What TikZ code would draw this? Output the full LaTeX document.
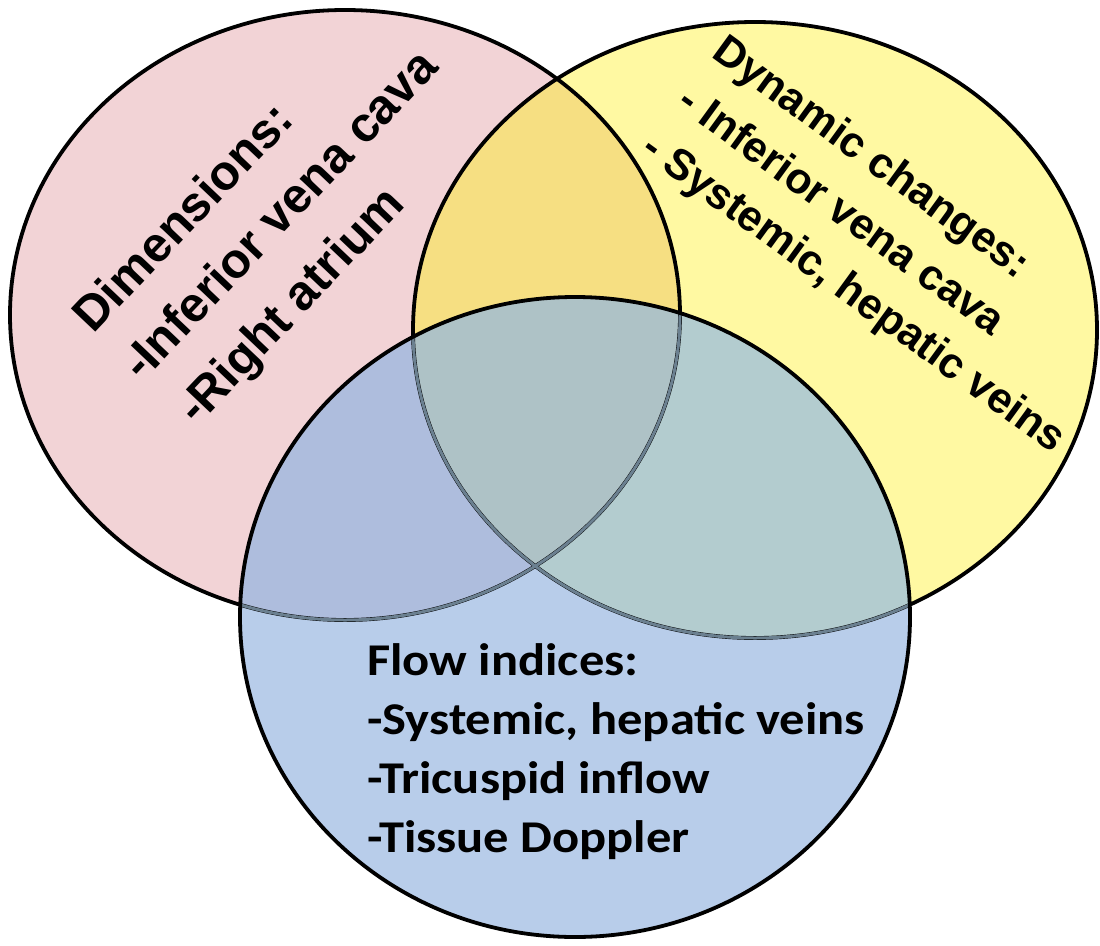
\documentclass[tikz,border=0pt]{standalone}
\usepackage{fontspec}
\setmainfont{Liberation Sans}
\newfontfamily\calfont{Carlito}
\definecolor{pinkfill}{HTML}{F2D3D6}
\definecolor{yellowfill}{HTML}{FFF9A2}
\definecolor{goldfill}{HTML}{F6DF82}
\definecolor{bluefill}{HTML}{B8CDEA}
\definecolor{bluepink}{HTML}{AEBDDD}
\definecolor{blueyellow}{HTML}{B3CCCF}
\definecolor{triplefill}{HTML}{AEC2C6}
\definecolor{innerline}{HTML}{6B8090}
\begin{document}
\begin{tikzpicture}[x=1pt,y=-1pt,
  outline/.style={line width=3.8pt, black},
  innerborder/.style={line width=3pt, innerline},
  dimtext/.style={font=\bfseries\fontsize{49}{49}\selectfont, inner sep=0pt, anchor=base west, rotate=46.5},
  dyntext/.style={font=\bfseries\fontsize{43}{43}\selectfont, inner sep=0pt, anchor=base west, rotate=-36},
  flowtext/.style={font=\calfont\bfseries\fontsize{50.5}{50.5}\selectfont, inner sep=0pt, anchor=base west, yscale=0.9}]
\useasboundingbox (0,0) rectangle (1100,945);
\fill[white] (0,0) rectangle (1100,945);
\def\pinkE{(345,315) ellipse [x radius=335pt, y radius=305pt]}
\def\yellowE{(755,330) ellipse [x radius=342pt, y radius=308pt]}
\def\blueE{(575,617) ellipse [x radius=335pt, y radius=320pt]}
% fills
\fill[pinkfill] \pinkE;
\fill[yellowfill] \yellowE;
\begin{scope}
  \clip \pinkE;
  \fill[goldfill] \yellowE;
\end{scope}
\fill[bluefill] \blueE;
\begin{scope}
  \clip \blueE;
  \fill[bluepink] \pinkE;
  \fill[blueyellow] \yellowE;
  \clip \pinkE;
  \fill[triplefill] \yellowE;
\end{scope}
% borders
\draw[outline] \pinkE;
\draw[outline] \yellowE;
\begin{scope}
  \clip \blueE;
  \draw[innerborder] \pinkE;
  \draw[innerborder] \yellowE;
\end{scope}
\draw[outline] \blueE;
% texts
\node[dimtext] (d1) at (93.5,335) {Dimensions:};
\node[dimtext] (d2) at (142,383) {-Inferior vena cava};
\node[dimtext] (d3) at (197,427) {-Right atrium};
\node[dyntext] (y1) at (710,56) {Dynamic changes:};
\node[dyntext] (y2) at (675,106) {- Inferior vena cava};
\node[dyntext] (y3) at (639,153) {- Systemic, hepatic veins};
\node[flowtext] (f1) at (367,675) {Flow indices:};
\node[flowtext] (f2) at (367,734) {-Systemic, hepatic veins};
\node[flowtext] (f3) at (367,793) {-Tricuspid inflow};
\node[flowtext] (f4) at (367,852) {-Tissue Doppler};
\end{tikzpicture}
\end{document}
